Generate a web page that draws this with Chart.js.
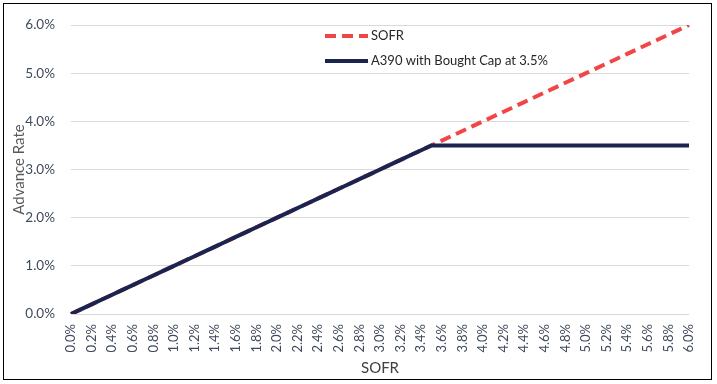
<!DOCTYPE html>
<html>
<head>
<meta charset="utf-8">
<script src="https://cdn.jsdelivr.net/npm/chart.js@4.4.0/dist/chart.umd.min.js"></script>
<style>
html,body{margin:0;padding:0;background:#fff;}
#wrap{width:717px;height:384px;position:relative;}
</style>
</head>
<body>
<div id="wrap"><canvas id="c" width="717" height="384"></canvas></div>
<script>
// SOFR values (x axis categories, percent)
const categories = [0.0,0.1,0.2,0.3,0.4,0.5,0.6,0.7,0.8,0.9,1.0,1.1,1.2,1.3,1.4,1.5,1.6,1.7,1.8,1.9,2.0,2.1,2.2,2.3,2.4,2.5,2.6,2.7,2.8,2.9,3.0,3.1,3.2,3.3,3.4,3.5,3.6,3.7,3.8,3.9,4.0,4.1,4.2,4.3,4.4,4.5,4.6,4.7,4.8,4.9,5.0,5.1,5.2,5.3,5.4,5.5,5.6,5.7,5.8,5.9,6.0];
// Series: SOFR advance rate (percent)
const sofrValues = [0.0,0.1,0.2,0.3,0.4,0.5,0.6,0.7,0.8,0.9,1.0,1.1,1.2,1.3,1.4,1.5,1.6,1.7,1.8,1.9,2.0,2.1,2.2,2.3,2.4,2.5,2.6,2.7,2.8,2.9,3.0,3.1,3.2,3.3,3.4,3.5,3.6,3.7,3.8,3.9,4.0,4.1,4.2,4.3,4.4,4.5,4.6,4.7,4.8,4.9,5.0,5.1,5.2,5.3,5.4,5.5,5.6,5.7,5.8,5.9,6.0];
// Series: A390 with Bought Cap at 3.5% (percent)
const cappedValues = [0.0,0.1,0.2,0.3,0.4,0.5,0.6,0.7,0.8,0.9,1.0,1.1,1.2,1.3,1.4,1.5,1.6,1.7,1.8,1.9,2.0,2.1,2.2,2.3,2.4,2.5,2.6,2.7,2.8,2.9,3.0,3.1,3.2,3.3,3.4,3.5,3.5,3.5,3.5,3.5,3.5,3.5,3.5,3.5,3.5,3.5,3.5,3.5,3.5,3.5,3.5,3.5,3.5,3.5,3.5,3.5,3.5,3.5,3.5,3.5,3.5];
// Y tick values (percent)
const yTicks = [0,1,2,3,4,5,6];
const seriesNames = ['SOFR','A390 with Bought Cap at 3.5%'];

const FONT = 'Lato, "Open Sans", sans-serif';
const RED = '#F24545';
const NAVY = '#1A2450';

const labels = categories.map(v => v.toFixed(1) + '%');

const legendPlugin = {
  id: 'customLegend',
  afterDatasetsDraw(chart) {
    const ctx = chart.ctx;
    const items = [
      {ds: chart.data.datasets[0], y: 36},
      {ds: chart.data.datasets[1], y: 61}
    ];
    ctx.save();
    items.forEach(it => {
      ctx.beginPath();
      ctx.strokeStyle = it.ds.borderColor;
      ctx.lineWidth = it.ds.borderWidth;
      ctx.setLineDash(it.ds.borderDash || []);
      ctx.lineCap = 'butt';
      ctx.moveTo(325, it.y);
      ctx.lineTo(368, it.y);
      ctx.stroke();
      ctx.setLineDash([]);
      ctx.fillStyle = '#262626';
      ctx.font = '13px ' + FONT;
      ctx.textBaseline = 'middle';
      ctx.textAlign = 'left';
      ctx.fillText(it.ds.label, 371, it.y);
    });
    ctx.restore();
  }
};

const borderPlugin = {
  id: 'outerBorder',
  afterDraw(chart) {
    const ctx = chart.ctx;
    ctx.save();
    ctx.strokeStyle = '#000';
    ctx.lineWidth = 1;
    ctx.strokeRect(3.5, 3.5, 708, 376);
    ctx.restore();
  },
  beforeDraw(chart) {
    const ctx = chart.ctx;
    ctx.save();
    ctx.fillStyle = '#fff';
    ctx.fillRect(0, 0, chart.width, chart.height);
    ctx.restore();
  }
};

new Chart(document.getElementById('c'), {
  type: 'line',
  data: {
    labels: labels,
    datasets: [
      {
        label: seriesNames[0],
        data: sofrValues,
        borderColor: RED,
        backgroundColor: RED,
        borderWidth: 4,
        borderDash: [11, 6],
        pointRadius: 0,
        tension: 0,
        order: 2
      },
      {
        label: seriesNames[1],
        data: cappedValues,
        borderColor: NAVY,
        backgroundColor: NAVY,
        borderWidth: 4,
        pointRadius: 0,
        tension: 0,
        order: 1
      }
    ]
  },
  options: {
    responsive: false,
    animation: false,
    devicePixelRatio: 1,
    layout: { padding: { left: 0, right: 28, top: 25, bottom: 0 } },
    plugins: {
      legend: { display: false },
      tooltip: { enabled: false }
    },
    scales: {
      x: {
        type: 'category',
        offset: false,
        grid: { display: false, drawTicks: false },
        border: { display: false },
        ticks: {
          autoSkip: false,
          maxRotation: 90,
          minRotation: 90,
          padding: 10,
          color: '#404A5C',
          font: { family: FONT, size: 13 },
          callback: function(val, idx) { return idx % 2 === 0 ? this.getLabelForValue(val) : null; }
        },
        title: {
          display: true,
          text: 'SOFR',
          color: '#404040',
          font: { family: FONT, size: 15 },
          padding: { top: 4, bottom: 7 }
        },
        afterFit(scale) { scale.height = 70; }
      },
      y: {
        min: 0,
        max: 6,
        afterBuildTicks(scale) { scale.ticks = yTicks.map(v => ({ value: v })); },
        grid: { color: '#D9D9D9', lineWidth: 1, drawTicks: false },
        border: { display: false },
        ticks: {
          padding: 16,
          color: '#404A5C',
          font: { family: FONT, size: 13.5 },
          callback: v => v.toFixed(1) + '%'
        },
        title: {
          display: true,
          text: 'Advance Rate',
          color: '#595959',
          font: { family: FONT, size: 15 },
          padding: { top: 10, bottom: 0 }
        },
        afterFit(scale) { scale.width = 71; }
      }
    }
  },
  plugins: [borderPlugin, legendPlugin]
});
</script>
</body>
</html>
